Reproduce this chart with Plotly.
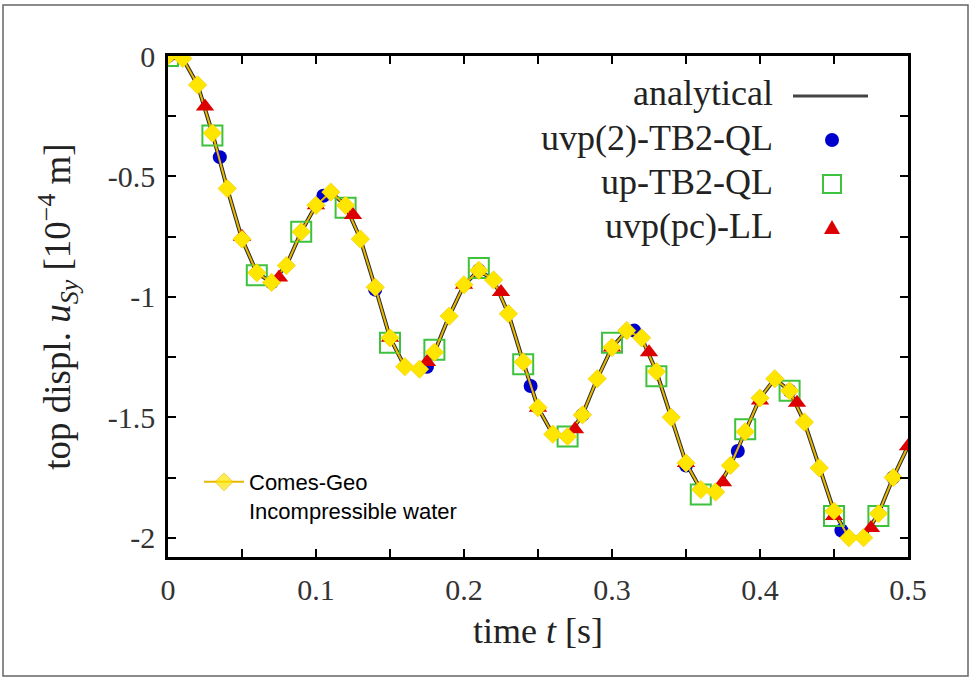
import plotly.graph_objects as go

# ---------------- data ----------------
t_analytical = [0.00, 0.01, 0.02, 0.03, 0.04, 0.05, 0.06, 0.07, 0.08, 0.09,
                0.10, 0.11, 0.12, 0.13, 0.14, 0.15, 0.16, 0.17, 0.18, 0.19,
                0.20, 0.21, 0.22, 0.23, 0.24, 0.25, 0.26, 0.27, 0.28, 0.29,
                0.30, 0.31, 0.32, 0.33, 0.34, 0.35, 0.36, 0.37, 0.38, 0.39,
                0.40, 0.41, 0.42, 0.43, 0.44, 0.45, 0.46, 0.47, 0.48, 0.49, 0.50]
u_analytical = [0.00, -0.01, -0.12, -0.32, -0.55, -0.76, -0.90, -0.94, -0.87, -0.73,
                -0.62, -0.565, -0.62, -0.76, -0.96, -1.17, -1.29, -1.30, -1.23, -1.08,
                -0.95, -0.89, -0.93, -1.07, -1.27, -1.46, -1.57, -1.58, -1.49, -1.34,
                -1.21, -1.14, -1.17, -1.31, -1.50, -1.69, -1.80, -1.81, -1.70, -1.56,
                -1.42, -1.34, -1.39, -1.52, -1.71, -1.89, -2.00, -2.00, -1.90, -1.75, -1.62]

t_comes = [0.00, 0.01, 0.02, 0.03, 0.04, 0.05, 0.06, 0.07, 0.08, 0.09,
           0.10, 0.11, 0.12, 0.13, 0.14, 0.15, 0.16, 0.17, 0.18, 0.19,
           0.20, 0.21, 0.22, 0.23, 0.24, 0.25, 0.26, 0.27, 0.28, 0.29,
           0.30, 0.31, 0.32, 0.33, 0.34, 0.35, 0.36, 0.37, 0.38, 0.39,
           0.40, 0.41, 0.42, 0.43, 0.44, 0.45, 0.46, 0.47, 0.48, 0.49, 0.50]
u_comes = [0.00, -0.01, -0.12, -0.32, -0.55, -0.76, -0.90, -0.94, -0.87, -0.73,
           -0.62, -0.565, -0.62, -0.76, -0.96, -1.17, -1.29, -1.30, -1.23, -1.08,
           -0.95, -0.89, -0.93, -1.07, -1.27, -1.46, -1.57, -1.58, -1.49, -1.34,
           -1.21, -1.14, -1.17, -1.31, -1.50, -1.69, -1.80, -1.81, -1.70, -1.56,
           -1.42, -1.34, -1.39, -1.52, -1.71, -1.89, -2.00, -2.00, -1.90, -1.75, -1.62]

t_uvp2 = [0.000, 0.035, 0.070, 0.105, 0.140, 0.175, 0.210, 0.245,
          0.280, 0.315, 0.350, 0.385, 0.420, 0.455, 0.490]
u_uvp2 = [0.00, -0.42, -0.94, -0.58, -0.97, -1.29, -0.89, -1.37,
          -1.49, -1.14, -1.70, -1.64, -1.39, -1.97, -1.75]

t_up = [0.00, 0.03, 0.06, 0.09, 0.12, 0.15, 0.18, 0.21, 0.24,
        0.27, 0.30, 0.33, 0.36, 0.39, 0.42, 0.45, 0.48]
u_up = [0.00, -0.33, -0.91, -0.73, -0.63, -1.19, -1.22, -0.88, -1.28,
        -1.58, -1.19, -1.33, -1.82, -1.55, -1.39, -1.91, -1.91]

t_pc = [0.000, 0.025, 0.050, 0.075, 0.100, 0.125, 0.150, 0.175, 0.200, 0.225, 0.250,
        0.275, 0.300, 0.325, 0.350, 0.375, 0.400, 0.425, 0.450, 0.475, 0.500]
u_pc = [0.00, -0.21, -0.75, -0.92, -0.62, -0.66, -1.17, -1.27, -0.95, -0.98, -1.46,
        -1.55, -1.21, -1.23, -1.69, -1.77, -1.43, -1.44, -1.91, -1.96, -1.62]

x_tickvals = [0.0, 0.1, 0.2, 0.3, 0.4, 0.5]
x_ticktext = ["0", "0.1", "0.2", "0.3", "0.4", "0.5"]
y_tickvals = [0.0, -0.5, -1.0, -1.5, -2.0]
y_ticktext = ["0", "-0.5", "-1", "-1.5", "-2"]

key_labels = ["analytical", "uvp(2)-TB2-QL", "up-TB2-QL", "uvp(pc)-LL"]

# ---------------- figure ----------------
W, H = 974, 680
L, R, T, B = 168, 66, 56, 123
PW, PH = W - L - R, H - T - B

def px_x(p):
    return (p - L) / PW

def px_y(p):
    return 1 - (p - T) / PH

serif = "Liberation Serif"

# the last Comes-Geo point only carries the line (its marker is hidden under the triangle)
comes_sizes = [14] * (len(t_comes) - 1) + [0]

fig = go.Figure()

fig.add_trace(go.Scatter(x=t_analytical, y=u_analytical, mode="lines",
                         line=dict(color="#2a2a2a", width=4), showlegend=False))
fig.add_trace(go.Scatter(x=t_uvp2, y=u_uvp2, mode="markers",
                         marker=dict(symbol="circle", size=14, color="#0000cc"),
                         showlegend=False))
fig.add_trace(go.Scatter(x=t_up, y=u_up, mode="markers",
                         marker=dict(symbol="square-open", size=20, color="#3cc23c",
                                     line=dict(width=2)),
                         showlegend=False))
fig.add_trace(go.Scatter(x=t_comes, y=u_comes, mode="lines+markers",
                         name="Comes-Geo<br>Incompressible water",
                         line=dict(color="#e8b800", width=2),
                         marker=dict(symbol="diamond", size=comes_sizes, color="#ffe600"),
                         showlegend=True))
fig.add_trace(go.Scatter(x=t_pc, y=u_pc, mode="markers",
                         marker=dict(symbol="triangle-up", size=16, color="#dd0000"),
                         showlegend=False))
# keep the diamonds on top of the triangles (except the final point)
fig.add_trace(go.Scatter(x=t_comes[:-1], y=u_comes[:-1], mode="markers",
                         marker=dict(symbol="diamond", size=14, color="#ffe600"),
                         showlegend=False))

shapes = []
# outer border of the picture
shapes.append(dict(type="rect", xref="paper", yref="paper",
                   x0=px_x(3), x1=px_x(968), y0=px_y(676), y1=px_y(5),
                   line=dict(color="#666666", width=1.5), layer="below"))

# gnuplot-style key (samples to the right of the labels)
kx = px_x(832)
row_y = [93, 138, 182, 226]
shapes.append(dict(type="line", xref="paper", yref="paper",
                   x0=px_x(793), x1=px_x(868), y0=px_y(96), y1=px_y(96),
                   line=dict(color="#444444", width=3)))
shapes.append(dict(type="circle", xref="paper", yref="paper",
                   xsizemode="pixel", ysizemode="pixel",
                   xanchor=kx, yanchor=px_y(row_y[1] + 2),
                   x0=-7, x1=7, y0=-7, y1=7,
                   fillcolor="#0000cc", line=dict(width=0)))
shapes.append(dict(type="rect", xref="paper", yref="paper",
                   xsizemode="pixel", ysizemode="pixel",
                   xanchor=kx, yanchor=px_y(row_y[2] + 2),
                   x0=-9, x1=9, y0=-9, y1=9,
                   line=dict(color="#3cc23c", width=2)))
shapes.append(dict(type="path", xref="paper", yref="paper",
                   xsizemode="pixel", ysizemode="pixel",
                   xanchor=kx, yanchor=px_y(row_y[3] + 2),
                   path="M -8 -6 L 8 -6 L 0 8 Z",
                   fillcolor="#dd0000", line=dict(width=0)))

annotations = []
for lab, yy in zip(key_labels, row_y):
    annotations.append(dict(text=lab, xref="paper", yref="paper",
                            x=px_x(775), y=px_y(yy), xanchor="right", yanchor="middle",
                            showarrow=False,
                            font=dict(family=serif, size=36, color="#222222")))

axis_common = dict(showline=True, linecolor="black", linewidth=2.5, mirror="allticks",
                   ticks="inside", ticklen=8, tickwidth=2, tickcolor="black",
                   showgrid=False, zeroline=False, ticklabelstandoff=4,
                   tickfont=dict(family=serif, size=30, color="#333333"))

fig.update_layout(
    width=W, height=H,
    margin=dict(l=L, r=R, t=T, b=B),
    paper_bgcolor="white", plot_bgcolor="white",
    xaxis=dict(range=[0, 0.5], tickmode="array", tickvals=x_tickvals, ticktext=x_ticktext,
               minor=dict(dtick=0.05, ticks="inside", ticklen=8, tickwidth=2,
                          tickcolor="black", showgrid=False),
               title=dict(text="time <i>t</i> [s]",
                          font=dict(family=serif, size=36, color="#222222"), standoff=14),
               **axis_common),
    yaxis=dict(range=[-2.08, 0], tickmode="array", tickvals=y_tickvals, ticktext=y_ticktext,
               minor=dict(dtick=0.25, ticks="inside", ticklen=8, tickwidth=2,
                          tickcolor="black", showgrid=False),
               title=dict(text="top displ. <i>u</i><sub><i>Sy</i></sub> [10<sup>−4</sup> m]",
                          font=dict(family=serif, size=37, color="#222222"), standoff=26),
               **axis_common),
    shapes=shapes,
    annotations=annotations,
    legend=dict(x=px_x(199), y=px_y(461), xanchor="left", yanchor="top",
                bgcolor="rgba(0,0,0,0)", valign="top", itemwidth=40,
                font=dict(family="Liberation Sans", size=22, color="black")),
)

fig.write_html("out.html")
